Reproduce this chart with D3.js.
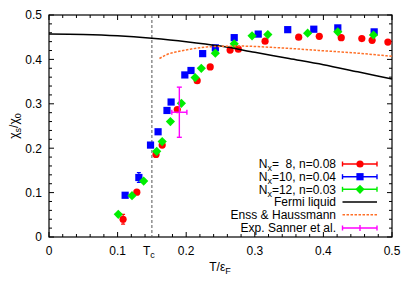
<!DOCTYPE html>
<html><head><meta charset="utf-8">
<script src="https://cdn.jsdelivr.net/npm/d3@7"></script>
<style>body{margin:0;background:#fff}text{font-family:"Liberation Sans",Arial,sans-serif}</style>
</head><body>
<svg id="c" width="415" height="291"></svg>
<script>
// Data
const redT = [0.108,0.128,0.156,0.165,0.187,0.216,0.235,0.264,0.276,0.315,0.364,0.394,0.426,0.456,0.471,0.494];
const redY = [0.040,0.101,0.186,0.207,0.287,0.352,0.383,0.421,0.423,0.441,0.450,0.452,0.449,0.447,0.443,0.439];
const redE = [0.011,0.003,0.004,0.004,0.003,0.003,0.003,0.003,0.003,0.003,0.003,0.003,0.003,0.003,0.003,0.003];
const blueT = [0.111,0.131,0.148,0.159,0.172,0.178,0.198,0.207,0.224,0.2425,0.270,0.305,0.348,0.386,0.421,0.474];
const blueY = [0.094,0.134,0.207,0.237,0.285,0.304,0.365,0.375,0.413,0.426,0.449,0.457,0.467,0.468,0.471,0.462];
const blueE = [0.004,0.011,0.004,0.004,0.003,0.003,0.003,0.003,0.003,0.003,0.003,0.003,0.003,0.003,0.003,0.003];
const greenT = [0.101,0.121,0.138,0.157,0.165,0.177,0.193,0.213,0.222,0.2425,0.270,0.296,0.319,0.377,0.421,0.473];
const greenY = [0.051,0.093,0.126,0.193,0.215,0.260,0.301,0.359,0.380,0.414,0.435,0.453,0.456,0.459,0.462,0.455];
const greenE = [0.003,0.003,0.004,0.003,0.003,0.003,0.003,0.003,0.003,0.003,0.003,0.003,0.003,0.003,0.003,0.003];
const fermiT = [0,0.05,0.1,0.15,0.2,0.25,0.3,0.35,0.4,0.45,0.5];
const fermiY = [0.457,0.456,0.453,0.4475,0.440,0.430,0.416,0.402,0.388,0.372,0.356];
const enssT = [0.161,0.172,0.186,0.206,0.230,0.254,0.278,0.337,0.395,0.45,0.5];
const enssY = [0.402,0.411,0.417,0.423,0.428,0.4295,0.430,0.426,0.420,0.414,0.407];
const expT = [0.190], expY = [0.281], expXE = [0.011], expYE = [0.0565];
const Tc = 0.15;
const xTicks = [0,0.1,0.2,0.3,0.4,0.5];
const yTicks = [0,0.1,0.2,0.3,0.4,0.5];
const legendLabels = ["N|x|=  8, n=0.08","N|x|=10, n=0.04","N|x|=12, n=0.03","Fermi liquid","Enss & Haussmann","Exp. Sanner et al."];

const L=49,R=392,T=15,B=237;
const x = d3.scaleLinear().domain([0,0.5]).range([L,R]);
const y = d3.scaleLinear().domain([0,0.5]).range([B,T]);
const svg = d3.select("#c");
const RED="#ff0000",BLUE="#0000ff",GREEN="#00ee00",ORANGE="#ff7028",MAG="#ff00ff";

// ticks (mirrored, inward)
const g = svg.append("g").attr("stroke","#000").attr("stroke-width",1);
const minor = d3.range(0,0.5001,0.02);
minor.forEach(v=>{
  const major = Math.abs(v*10-Math.round(v*10))<1e-6;
  const len = major?5:3;
  g.append("line").attr("x1",x(v)).attr("x2",x(v)).attr("y1",B).attr("y2",B-len);
  g.append("line").attr("x1",x(v)).attr("x2",x(v)).attr("y1",T).attr("y2",T+len);
  g.append("line").attr("y1",y(v)).attr("y2",y(v)).attr("x1",L).attr("x2",L+len);
  g.append("line").attr("y1",y(v)).attr("y2",y(v)).attr("x1",R).attr("x2",R-len);
});
svg.append("rect").attr("x",L).attr("y",T).attr("width",R-L).attr("height",B-T)
  .attr("fill","none").attr("stroke","#000").attr("stroke-width",1.2);

// tick labels
svg.append("g").selectAll("text").data(xTicks).join("text")
  .attr("x",d=>x(d)).attr("y",255).attr("text-anchor","middle").attr("font-size",12)
  .text(d=>d===0?"0":d3.format(".1f")(d));
svg.append("g").selectAll("text").data(yTicks).join("text")
  .attr("x",42).attr("y",d=>y(d)+4.3).attr("text-anchor","end").attr("font-size",12)
  .text(d=>d===0?"0":d3.format(".1f")(d));
const tcl = svg.append("text").attr("x",x(Tc)-3).attr("y",255).attr("text-anchor","middle").attr("font-size",12);
tcl.append("tspan").text("T");
tcl.append("tspan").attr("dy",3).attr("font-size",9).text("c");

// axis titles
const xl = svg.append("text").attr("x",220).attr("y",271).attr("text-anchor","middle").attr("font-size",12);
xl.append("tspan").text("T/ε");
xl.append("tspan").attr("dy",3).attr("font-size",9).text("F");
const yl = svg.append("text").attr("transform","translate(18,126) rotate(-90)").attr("text-anchor","middle").attr("font-size",12);
yl.append("tspan").text("χ");
yl.append("tspan").attr("dy",3).attr("font-size",9).text("s");
yl.append("tspan").attr("dy",-3).text("/χ");
yl.append("tspan").attr("dy",3).attr("font-size",9).text("0");

// Tc line
svg.append("line").attr("x1",x(Tc)).attr("x2",x(Tc)).attr("y1",T).attr("y2",B)
  .attr("stroke","#555").attr("stroke-width",1).attr("stroke-dasharray","3,2");

// marker helpers
function marker(sel,type,cx,cy,col){
  if(type==="circle") sel.append("circle").attr("cx",cx).attr("cy",cy).attr("r",3.6).attr("fill",col);
  else if(type==="square") sel.append("rect").attr("x",cx-3.6).attr("y",cy-3.6).attr("width",7.2).attr("height",7.2).attr("fill",col);
  else if(type==="diamond") sel.append("path").attr("d",`M${cx},${cy-4.6}L${cx+4.6},${cy}L${cx},${cy+4.6}L${cx-4.6},${cy}Z`).attr("fill",col);
}
function series(Ts,Ys,Es,col,type){
  const s = svg.append("g");
  Ts.forEach((t,i)=>{
    const cx=x(t), y1=y(Ys[i]-Es[i]), y2=y(Ys[i]+Es[i]);
    s.append("line").attr("x1",cx).attr("x2",cx).attr("y1",y1).attr("y2",y2).attr("stroke",col).attr("stroke-width",1.2);
    s.append("line").attr("x1",cx-2).attr("x2",cx+2).attr("y1",y1).attr("y2",y1).attr("stroke",col).attr("stroke-width",1.2);
    s.append("line").attr("x1",cx-2).attr("x2",cx+2).attr("y1",y2).attr("y2",y2).attr("stroke",col).attr("stroke-width",1.2);
    marker(s,type,cx,y(Ys[i]),col);
  });
}
series(redT,redY,redE,RED,"circle");
series(blueT,blueY,blueE,BLUE,"square");
series(greenT,greenY,greenE,GREEN,"diamond");

const line = d3.line().x(d=>x(d[0])).y(d=>y(d[1])).curve(d3.curveMonotoneX);
svg.append("path").attr("d",line(fermiT.map((t,i)=>[t,fermiY[i]]))).attr("fill","none").attr("stroke","#000").attr("stroke-width",1.5);
svg.append("path").attr("d",line(enssT.map((t,i)=>[t,enssY[i]]))).attr("fill","none").attr("stroke",ORANGE).attr("stroke-width",1.5).attr("stroke-dasharray","2.5,1.5");

// experiment
expT.forEach((t,i)=>{
  const cx=x(t),cy=y(expY[i]);
  const ex = svg.append("g").attr("stroke",MAG).attr("stroke-width",1.4);
  const xa=x(t-expXE[i]),xb=x(t+expXE[i]),ya=y(expY[i]-expYE[i]),yb=y(expY[i]+expYE[i]);
  ex.append("line").attr("x1",cx).attr("x2",cx).attr("y1",ya).attr("y2",yb);
  ex.append("line").attr("x1",xa).attr("x2",xb).attr("y1",cy).attr("y2",cy);
  ex.append("line").attr("x1",cx-2.5).attr("x2",cx+2.5).attr("y1",ya).attr("y2",ya);
  ex.append("line").attr("x1",cx-2.5).attr("x2",cx+2.5).attr("y1",yb).attr("y2",yb);
  ex.append("line").attr("x1",xa).attr("x2",xa).attr("y1",cy-2.5).attr("y2",cy+2.5);
  ex.append("line").attr("x1",xb).attr("x2",xb).attr("y1",cy-2.5).attr("y2",cy+2.5);
});

// legend
const rowY = [164,176.7,189.3,202,214.7,228];
const legCol = [RED,BLUE,GREEN,"#000",ORANGE,MAG];
const legType = ["circle","square","diamond",null,null,"cross"];
legendLabels.forEach((lab,i)=>{
  const ty = rowY[i];
  const t = svg.append("text").attr("x",336).attr("y",ty+4.3).attr("text-anchor","end").attr("font-size",12).style("white-space","pre");
  const parts = lab.split("|");
  if(parts.length===3){
    t.append("tspan").text(parts[0]);
    t.append("tspan").attr("dy",3).attr("font-size",9).text(parts[1]);
    t.append("tspan").attr("dy",-3).text(parts[2]);
  } else t.text(lab);
  const lg = svg.append("g").attr("stroke",legCol[i]).attr("stroke-width",i===3?1.5:1.4);
  lg.append("line").attr("x1",342.5).attr("x2",377).attr("y1",ty).attr("y2",ty).attr("stroke-dasharray",i===4?"2.5,1.5":null);
  if(legType[i]){
    lg.append("line").attr("x1",342.5).attr("x2",342.5).attr("y1",ty-2.5).attr("y2",ty+2.5);
    lg.append("line").attr("x1",377).attr("x2",377).attr("y1",ty-2.5).attr("y2",ty+2.5);
    if(legType[i]==="cross") lg.append("line").attr("x1",360).attr("x2",360).attr("y1",ty-3).attr("y2",ty+3);
    else marker(svg,legType[i],360,ty,legCol[i]);
  }
});
</script>
</body></html>
